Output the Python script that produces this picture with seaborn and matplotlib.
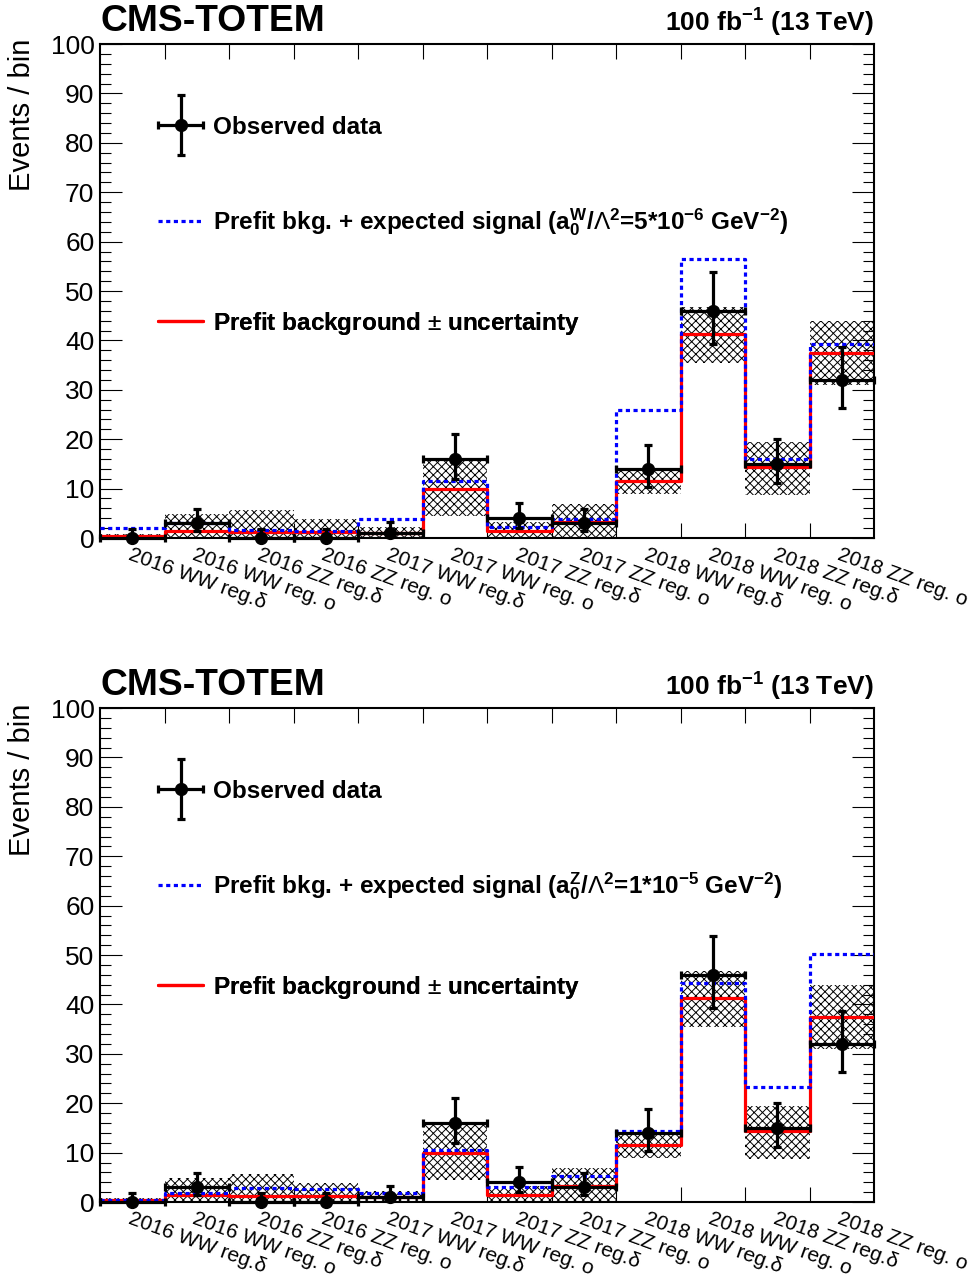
import numpy as np
import pandas as pd
import matplotlib
matplotlib.use("Agg")
import matplotlib.pyplot as plt
from matplotlib.lines import Line2D
from matplotlib.container import ErrorbarContainer
from matplotlib.legend_handler import HandlerErrorbar
from matplotlib.ticker import MultipleLocator
import seaborn as sns

# ---- data ----
bin_labels = ["2016 WW reg.δ", "2016 WW reg. o", "2016 ZZ reg.δ", "2016 ZZ reg. o",
              "2017 WW reg.δ", "2017 WW reg. o", "2017 ZZ reg.δ", "2017 ZZ reg. o",
              "2018 WW reg.δ", "2018 WW reg. o", "2018 ZZ reg.δ", "2018 ZZ reg. o"]

observed = [0, 3, 0, 0, 1, 16, 4, 3, 14, 46, 15, 32]
obs_low = [0, 1.37, 0, 0, 0.17, 12.0, 2.09, 1.37, 10.3, 39.2, 11.2, 26.4]
obs_high = [1.84, 5.92, 1.84, 1.84, 3.30, 21.1, 7.16, 5.92, 18.8, 53.8, 20.0, 38.7]

background = [0.5, 1.4, 1.3, 1.3, 1.1, 10.0, 1.4, 3.3, 11.5, 41.4, 14.3, 37.5]
bkg_unc_low = [0.1, 0.0, 0.0, 0.0, 0.0, 4.5, 0.2, 0.3, 9.0, 35.5, 8.7, 31.0]
bkg_unc_high = [0.9, 4.8, 5.6, 3.9, 2.3, 15.5, 3.2, 6.9, 13.7, 46.8, 19.5, 44.0]

# prefit bkg + expected signal
signal_a0w = [2.0, 3.0, 1.6, 1.5, 3.8, 11.5, 2.2, 3.8, 26.0, 56.5, 15.9, 39.3]
signal_a0z = [0.5, 1.8, 2.9, 2.6, 1.9, 10.5, 3.0, 5.3, 14.4, 44.3, 23.2, 50.3]

label_a0w = r"Prefit bkg. + expected signal (a$_{0}^{W}$/$\mathrm{\Lambda}^{2}$=5*10$^{-6}$ GeV$^{-2}$)"
label_a0z = r"Prefit bkg. + expected signal (a$_{0}^{Z}$/$\mathrm{\Lambda}^{2}$=1*10$^{-5}$ GeV$^{-2}$)"

# ---- style ----
sns.set_style("ticks")
plt.rcParams['font.family'] = ['Liberation Sans', 'DejaVu Sans']
plt.rcParams['mathtext.fontset'] = 'custom'
plt.rcParams['mathtext.rm'] = 'Liberation Sans'
plt.rcParams['mathtext.bf'] = 'Liberation Sans:bold'
plt.rcParams['mathtext.default'] = 'bf'
plt.rcParams['hatch.linewidth'] = 0.7
plt.rcParams['axes.linewidth'] = 1.5
plt.rcParams['axes.edgecolor'] = 'black'
plt.rcParams['text.color'] = 'black'
plt.rcParams['axes.labelcolor'] = 'black'
plt.rcParams['xtick.color'] = 'black'
plt.rcParams['ytick.color'] = 'black'

pos = np.arange(len(bin_labels))
edges = [i - 0.5 for i in range(len(bin_labels) + 1)]

fig = plt.figure(figsize=(9.72, 12.77), dpi=100)
rects = [[0.1029, 0.5787, 0.7963, 0.3868], [0.1029, 0.0587, 0.7963, 0.3868]]
panels = [(signal_a0w, label_a0w), (signal_a0z, label_a0z)]

blue_ls = (0, (1.3, 1.1))

for rect, (sig, sig_label) in zip(rects, panels):
    ax = fig.add_axes(rect)
    df = pd.DataFrame({'pos': pos, 'bkg': background, 'sig': sig})

    # uncertainty band
    ax.bar(pos, np.array(bkg_unc_high) - np.array(bkg_unc_low), bottom=bkg_unc_low,
           width=1.0, fill=False, hatch='xxxx', edgecolor='black', linewidth=0, zorder=1)

    # background and bkg+signal histograms
    sns.histplot(data=df, x='pos', weights='bkg', bins=edges, element='step', fill=False,
                 color='#ff0000', linewidth=2.3, zorder=3, ax=ax)
    sns.histplot(data=df, x='pos', weights='sig', bins=edges, element='step', fill=False,
                 color='#0000ff', linewidth=2.3, linestyle=blue_ls, zorder=4, ax=ax)

    # observed data
    obs = np.array(observed, dtype=float)
    eb = ax.errorbar(pos, obs, yerr=[obs - np.array(obs_low), np.array(obs_high) - obs],
                     xerr=0.5, fmt='o', color='black', ms=8.5, elinewidth=2.3,
                     capsize=3, capthick=2.3, zorder=6)
    for child in eb.get_children():
        child.set_clip_on(False)

    ax.set_xlim(-0.5, len(bin_labels) - 0.5)
    ax.set_ylim(0, 100)
    ax.set_xlabel('')
    ax.set_ylabel('Events / bin', fontsize=21, loc='top')
    ax.yaxis.set_label_coords(-0.083, 1.01)

    # ticks
    ax.yaxis.set_major_locator(MultipleLocator(10))
    ax.yaxis.set_minor_locator(MultipleLocator(2))
    ax.tick_params(axis='y', which='major', direction='in', length=16, width=0.8,
                   right=True, labelsize=19, pad=4)
    ax.tick_params(axis='y', which='minor', direction='in', length=8, width=0.8, right=True)
    ax.set_xticks(edges[1:-1])
    ax.set_xticklabels([])
    ax.tick_params(axis='x', which='major', direction='in', length=11, width=0.8, top=True)
    ax.set_xticks(pos, bin_labels, minor=True)
    ax.tick_params(axis='x', which='minor', length=0, labelsize=15, pad=5)
    for lbl in ax.get_xticklabels(minor=True):
        lbl.set_rotation(-20)
        lbl.set_ha('left')
        lbl.set_rotation_mode('anchor')

    ax.text(0.0, 1.026, "CMS-TOTEM", transform=ax.transAxes, ha='left', va='baseline',
            fontsize=26.8, fontweight='bold')
    ax.text(1.0, 1.026, "100 fb$^{-1}$ (13 TeV)", transform=ax.transAxes, ha='right',
            va='baseline', fontsize=19, fontweight='bold')

    # legend entries, one per row
    entries = [
        (eb, "Observed data", 0.832),
        (Line2D([], [], color='#0000ff', lw=2.3, linestyle=blue_ls), sig_label, 0.640),
        (Line2D([], [], color='#ff0000', lw=2.3), r"Prefit background $\mathrm{\pm}$ uncertainty", 0.435),
    ]
    for handle, text, yfrac in entries:
        leg = ax.legend([handle], [text], loc='center left', bbox_to_anchor=(0.075, yfrac),
                        frameon=False, borderpad=0, borderaxespad=0, handlelength=1.85,
                        handletextpad=0.4, prop={'weight': 'bold', 'size': 17.5},
                        handler_map={ErrorbarContainer: HandlerErrorbar(xerr_size=0.92, yerr_size=1.23)})
        ax.add_artist(leg)

fig.savefig("out.png", dpi=100)
